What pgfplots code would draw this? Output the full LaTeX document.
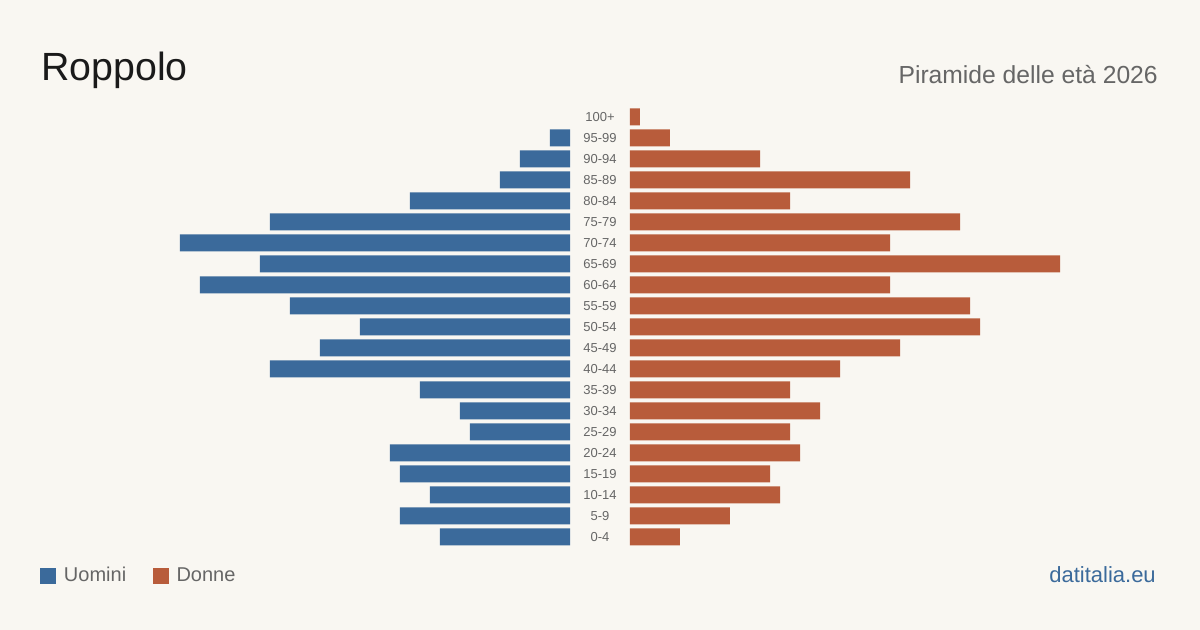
\documentclass[border=0pt]{standalone}
\usepackage{fontspec}
\setmainfont{Liberation Sans}
\usepackage{pgfplots}
\usepackage{pgfplotstable}
\pgfplotsset{compat=1.18}
\definecolor{bg}{HTML}{F9F7F2}
\definecolor{menc}{HTML}{3B6A9B}
\definecolor{womc}{HTML}{B85C3B}
\definecolor{lab}{HTML}{666666}
\definecolor{ttl}{HTML}{1A1A1A}

% men, 0-4 (y=0) up to 95-99 (y=19); 100+ has none
\pgfplotstableread{
y v
0 13
1 17
2 14
3 17
4 18
5 10
6 11
7 15
8 30
9 25
10 21
11 28
12 37
13 31
14 39
15 30
16 16
17 7
18 5
19 2
}\mentable

\pgfplotstableread{
y v
0 5
1 10
2 15
3 14
4 17
5 16
6 19
7 16
8 21
9 27
10 35
11 34
12 26
13 43
14 26
15 33
16 16
17 28
18 13
19 4
20 1
}\womtable

\begin{document}
\begin{tikzpicture}
\begin{scope}[x=0.75pt,y=-0.75pt]
\fill[bg] (0,0) rectangle (1200,630);
\node[anchor=base west, inner sep=0pt, text=ttl, font=\fontsize{29.5}{31}\selectfont] at (41,81) {Roppolo};
\node[anchor=base east, inner sep=0pt, text=lab, font=\fontsize{18.5}{20}\selectfont] at (1158,84) {Piramide delle età 2026};
\node[anchor=base east, inner sep=0pt, text=menc, font=\fontsize{16.5}{18}\selectfont] at (1156,583) {datitalia.eu};
\end{scope}

\begin{axis}[
  at={(427.5pt,-79.875pt)}, anchor=north east,
  scale only axis, width=427.5pt, height=330.75pt,
  xmin=0, xmax=57, x dir=reverse,
  ymin=-0.5, ymax=20.5,
  hide axis,
  xbar, bar width=12.75pt,
]
\addplot[fill=menc, draw=none] table[x=v, y=y] {\mentable};
\end{axis}

\begin{axis}[
  at={(472.5pt,-79.875pt)}, anchor=north west,
  scale only axis, width=427.5pt, height=330.75pt,
  xmin=0, xmax=57,
  ymin=-0.5, ymax=20.5,
  axis line style={draw=none},
  tick style={draw=none}, major tick length=0pt,
  xtick=\empty,
  ytick={0,...,20},
  yticklabels={0-4,5-9,10-14,15-19,20-24,25-29,30-34,35-39,40-44,45-49,50-54,55-59,60-64,65-69,70-74,75-79,80-84,85-89,90-94,95-99,100+},
  yticklabel style={anchor=center, xshift=-22.5pt, text=lab, font=\fontsize{9.75}{10}\selectfont, inner sep=0pt},
  xbar, bar width=12.75pt,
  legend image code/.code={\fill[#1] (0pt,-6pt) rectangle (12pt,6pt); \path[draw=none, fill=none] (0pt,0pt) -- (15.75pt,0pt);},
  legend columns=2,
  legend style={draw=none, fill=none, at={(axis description cs:-1.035,-0.0647)}, anchor=west,
    font=\fontsize{15}{16}\selectfont, text=lab, inner sep=0pt,
    nodes={text height=8pt, text depth=0pt},
    /tikz/every even column/.append style={column sep=18pt}},
]
\addlegendimage{fill=menc, draw=none}
\addlegendentry{Uomini}
\addplot[fill=womc, draw=none] table[x=v, y=y] {\womtable};
\addlegendentry{Donne}
\end{axis}
\end{tikzpicture}
\end{document}
